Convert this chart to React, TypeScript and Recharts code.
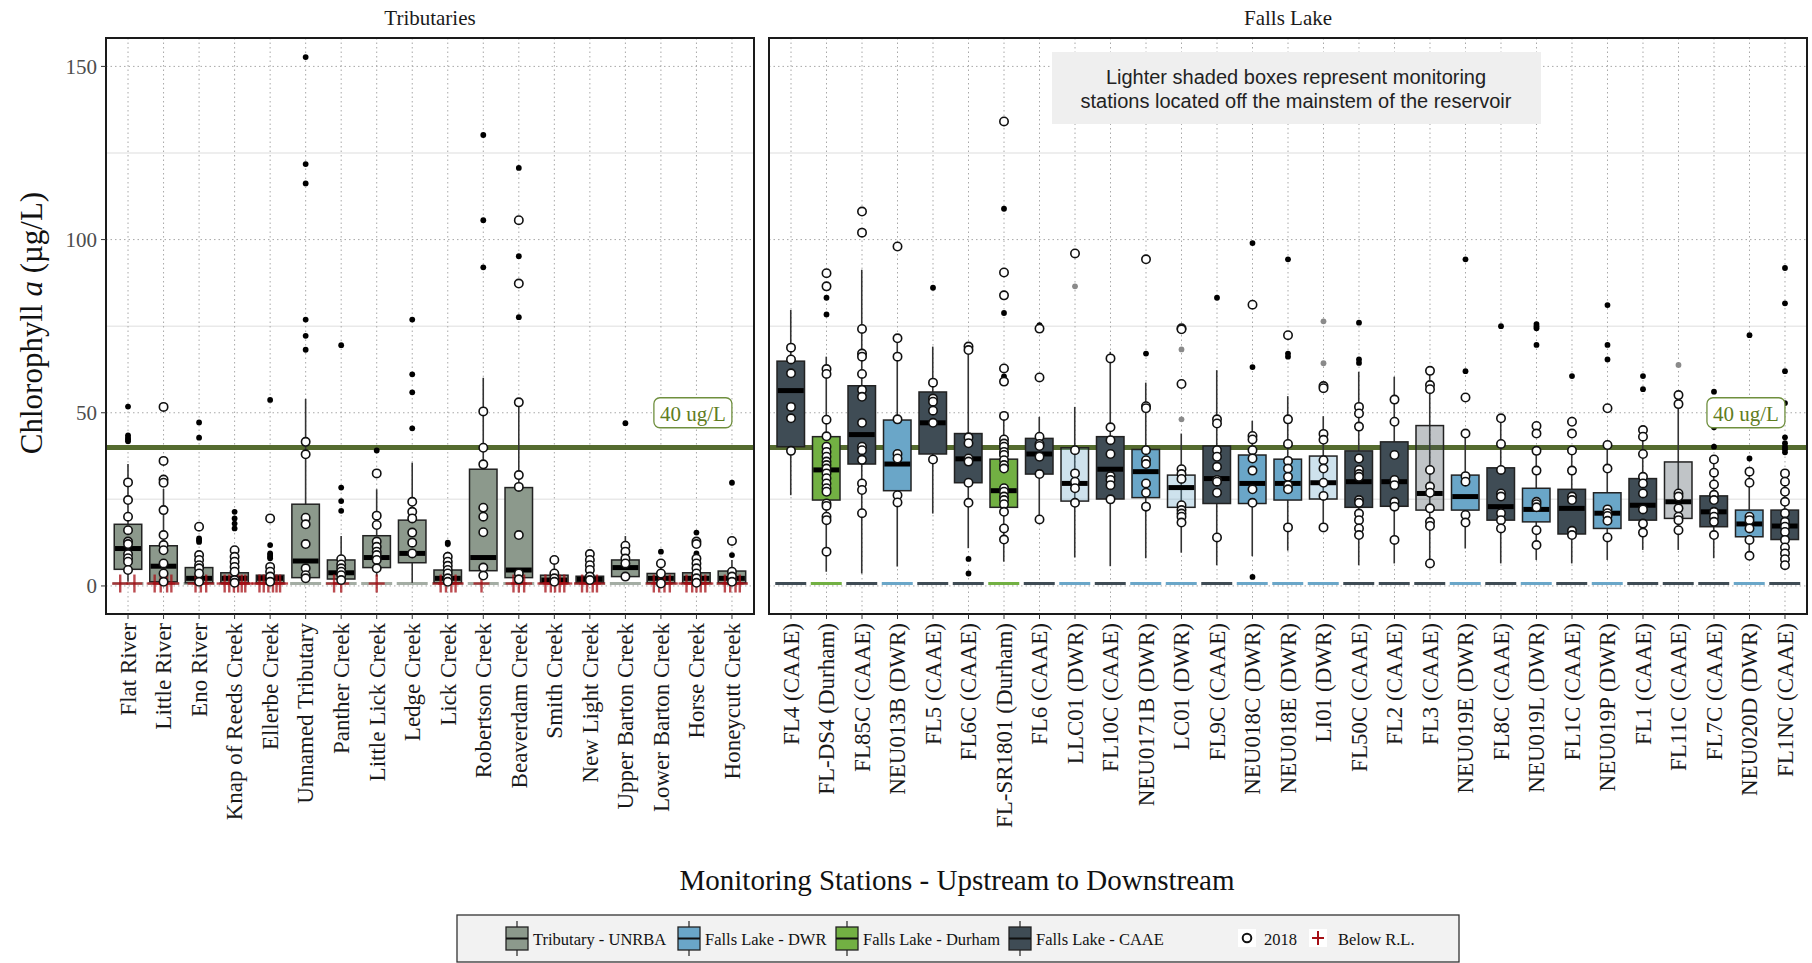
import React from 'react';
import {
  ComposedChart,
  Bar,
  Scatter,
  XAxis,
  YAxis,
  CartesianGrid,
  ReferenceArea,
  ReferenceDot,
} from 'recharts';

const SERIF = '"Liberation Serif", "Times New Roman", serif';
const SANS = '"Liberation Sans Narrow", "Liberation Sans", Arial, sans-serif';

// reporting limit (dashes + red crosses) and the 40 ug/L criterion
const RL = 0.7;
const TARGET = 40;
const Y_DOMAIN: [number, number] = [-8.1, 158.2];
const Y_TICKS = [0, 50, 100, 150];
const Y_MINOR = [25, 75, 125];

// ---- Tributaries ----
const tribStations = [
  'Flat River', 'Little River', 'Eno River', 'Knap of Reeds Creek', 'Ellerbe Creek',
  'Unnamed Tributary', 'Panther Creek', 'Little Lick Creek', 'Ledge Creek', 'Lick Creek',
  'Robertson Creek', 'Beaverdam Creek', 'Smith Creek', 'New Light Creek',
  'Upper Barton Creek', 'Lower Barton Creek', 'Horse Creek', 'Honeycutt Creek',
];
const tribLow = [1.2, 0.9, 0.9, 0.9, 0.9, 1.8, 1.2, 2.7, 0.9, 0.9, 2.7, 1.2, 0.9, 0.9, 1.7, 0.9, 0.9, 0.9];
const tribQ1 = [4.8, 1.2, 0.9, 0.9, 0.9, 2.4, 2.0, 5.3, 6.7, 0.9, 4.4, 2.4, 0.9, 0.9, 2.7, 0.9, 0.9, 0.9];
const tribMed = [10.8, 5.7, 2.2, 2.2, 2.2, 7.2, 3.8, 8.2, 9.4, 2.2, 8.2, 4.6, 1.7, 1.9, 5.3, 2.2, 2.2, 2.2];
const tribQ3 = [17.8, 11.6, 5.3, 3.8, 3.1, 23.6, 7.5, 14.5, 19.0, 4.6, 33.7, 28.4, 3.1, 2.8, 7.5, 3.6, 3.8, 4.3];
const tribHigh = [35.2, 28.0, 9.5, 7.9, 6.0, 54.0, 14.4, 27.9, 35.6, 8.4, 60.1, 53.0, 7.7, 9.4, 14.4, 6.5, 7.9, 7.5];
const tribOutliers = [
  [51.8, 43.5, 42.8, 42.3, 41.8],
  [],
  [47.2, 42.8, 13.7, 13.2, 12.7],
  [21.4, 19.5, 18.0, 16.6],
  [53.7, 11.8, 9.4, 8.9, 8.4, 8.0],
  [152.7, 121.8, 116.2, 76.9, 72.2, 68.2],
  [69.5, 28.4, 24.5, 21.7],
  [39.1],
  [76.9, 61.1, 55.9, 45.5],
  [12.5, 12.1],
  [130.2, 105.6, 92.0],
  [120.7, 95.2, 77.6],
  [],
  [],
  [47.0],
  [9.9],
  [15.4, 9.4],
  [29.8, 8.9],
];
const trib2018 = [
  [29.9, 24.8, 20.0, 16.1, 12.8, 12.1, 9.2, 8.0, 7.0, 4.6],
  [51.7, 36.1, 30.7, 29.8, 21.9, 14.7, 11.8, 10.3, 6.5, 3.6, 1.2],
  [17.1, 8.9, 7.5, 6.0, 5.1, 3.6, 1.2],
  [10.3, 8.4, 7.0, 5.5, 4.1, 1.7, 0.9],
  [19.5, 5.5, 4.1, 2.7, 1.2],
  [41.6, 38.0, 19.7, 17.8, 12.1, 5.1, 3.1, 2.2],
  [7.7, 6.2, 5.1, 4.1, 3.1, 1.7],
  [32.5, 20.3, 17.6, 12.8, 11.3, 9.9, 8.9, 7.5, 5.1],
  [24.3, 21.4, 19.5, 15.4, 12.5, 9.4],
  [8.4, 7.0, 5.8, 4.6, 3.6, 2.2, 1.2],
  [50.4, 39.9, 35.1, 22.6, 20.0, 15.5, 5.3, 3.0],
  [105.6, 87.3, 53.0, 32.0, 28.6, 14.7, 3.6, 1.9],
  [7.5, 3.6, 2.2, 1.2],
  [9.2, 7.5, 6.0, 4.6, 2.7, 1.7],
  [11.6, 9.9, 7.9, 6.5, 2.7],
  [6.5, 3.6, 0.7],
  [12.8, 12.1, 7.9, 6.5, 5.1, 3.6, 2.2, 0.9],
  [13.0, 4.1, 2.7, 1.2],
];
// horizontal jitter of the below-RL crosses (category units)
const tribBelowRL = [
  [-0.22, 0.18],
  [-0.25, -0.08, 0.1, 0.22],
  [-0.1, 0.05, 0.2],
  [-0.28, -0.15, -0.02, 0.1, 0.2, 0.3],
  [-0.3, -0.18, -0.05, 0.08, 0.18, 0.28],
  [],
  [-0.2, 0.0],
  [0.0],
  [],
  [-0.2, -0.05, 0.1, 0.22],
  [-0.05],
  [-0.15, 0.0, 0.15],
  [-0.25, -0.1, 0.02, 0.15, 0.28],
  [-0.22, -0.08, 0.08, 0.2],
  [],
  [-0.2, -0.05, 0.1, 0.25],
  [-0.28, -0.12, 0.0, 0.12, 0.25],
  [-0.2, -0.05, 0.1, 0.22],
];

// ---- Falls Lake ----
const lakeStations = [
  'FL4 (CAAE)', 'FL-DS4 (Durham)', 'FL85C (CAAE)', 'NEU013B (DWR)', 'FL5 (CAAE)', 'FL6C (CAAE)',
  'FL-SR1801 (Durham)', 'FL6 (CAAE)', 'LLC01 (DWR)', 'FL10C (CAAE)', 'NEU0171B (DWR)', 'LC01 (DWR)',
  'FL9C (CAAE)', 'NEU018C (DWR)', 'NEU018E (DWR)', 'LI01 (DWR)', 'FL50C (CAAE)', 'FL2 (CAAE)',
  'FL3 (CAAE)', 'NEU019E (DWR)', 'FL8C (CAAE)', 'NEU019L (DWR)', 'FL1C (CAAE)', 'NEU019P (DWR)',
  'FL1 (CAAE)', 'FL11C (CAAE)', 'FL7C (CAAE)', 'NEU020D (DWR)', 'FL1NC (CAAE)',
];
const lakeAgency = [
  'CAAE', 'Durham', 'CAAE', 'DWR', 'CAAE', 'CAAE', 'Durham', 'CAAE', 'DWR', 'CAAE', 'DWR', 'DWR',
  'CAAE', 'DWR', 'DWR', 'DWR', 'CAAE', 'CAAE', 'CAAE', 'DWR', 'CAAE', 'DWR', 'CAAE', 'DWR',
  'CAAE', 'CAAE', 'CAAE', 'DWR', 'CAAE',
];
// stations off the mainstem get the lighter boxes
const lakeOffMain = [
  false, false, false, false, false, false, false, false, true, false, false, true,
  false, false, false, true, false, false, true, false, false, false, false, false,
  false, true, false, false, false,
];
const lakeLow = [26.2, 4.1, 3.6, 5.6, 20.9, 10.9, 7.0, 19.0, 8.2, 5.7, 8.0, 9.6, 6.0, 8.6, 10.2, 16.6, 6.0, 6.5, 6.5, 10.8, 6.5, 7.5, 6.5, 7.5, 10.4, 10.4, 8.0, 8.7, 6.0];
const lakeQ1 = [40.2, 24.8, 35.2, 27.5, 38.1, 29.8, 22.7, 32.3, 24.5, 25.1, 25.5, 22.7, 23.8, 23.8, 24.8, 25.1, 22.7, 23.0, 21.9, 21.9, 19.0, 18.5, 15.0, 16.6, 19.0, 19.5, 17.1, 14.2, 13.4];
const lakeMed = [56.4, 33.5, 43.7, 35.2, 47.1, 36.7, 27.5, 38.1, 29.6, 33.7, 33.0, 28.4, 31.0, 29.6, 29.6, 29.8, 30.1, 30.1, 26.7, 25.8, 22.9, 22.1, 22.4, 21.0, 23.3, 24.3, 21.4, 17.9, 17.3];
const lakeQ3 = [64.9, 43.1, 57.8, 47.9, 56.0, 44.0, 36.6, 42.6, 39.9, 43.1, 39.4, 32.0, 40.4, 37.8, 36.6, 37.5, 39.0, 41.6, 46.3, 32.0, 34.1, 28.2, 27.9, 26.9, 31.0, 35.8, 26.0, 21.9, 21.9];
const lakeHigh = [79.7, 66.2, 91.3, 71.5, 69.1, 67.6, 49.3, 48.8, 51.7, 67.6, 58.7, 44.0, 62.3, 47.7, 54.8, 49.0, 61.8, 60.4, 62.3, 44.0, 48.7, 39.2, 39.2, 40.6, 45.0, 55.1, 36.5, 33.5, 32.5];
const lakeOutliers = [
  [], [83.2, 78.4], [], [], [86.1], [7.8, 3.6], [108.9, 78.8, 60.5], [75.3], [86.5], [],
  [67.1], [68.3, 48.1], [83.2], [99.0, 63.2, 2.6], [94.3, 67.1, 66.2], [76.4, 64.3],
  [76.0, 65.4, 64.4], [], [], [94.3, 62.0], [75.0], [75.6, 75.0, 74.4, 69.6], [60.6],
  [81.1, 69.6, 65.4], [60.6, 56.8], [63.8], [56.1, 45.8, 40.2], [72.4, 36.8],
  [91.8, 81.6, 62.0, 52.8, 42.9, 41.2, 40.2, 39.5, 38.6],
];
const lake2018 = [
  [68.8, 65.4, 61.4, 51.7, 48.4, 39.0],
  [90.3, 86.5, 62.6, 61.2, 48.0, 43.2, 40.2, 38.7, 37.3, 35.9, 34.9, 33.9, 32.5, 31.1, 29.6, 28.2, 27.2, 23.8, 23.1, 20.0, 19.0, 9.9],
  [108.1, 102.0, 74.2, 67.1, 66.2, 61.2, 56.6, 54.6, 47.1, 40.2, 39.2, 36.4, 29.6, 27.7, 21.0],
  [98.0, 71.5, 66.2, 48.1, 38.1, 36.8, 26.2, 24.1],
  [58.7, 54.1, 53.2, 50.6, 47.1, 36.5],
  [69.1, 68.1, 42.9, 41.2, 36.8, 35.9, 29.8, 24.0],
  [134.1, 90.5, 83.9, 62.8, 59.0, 49.1, 42.3, 41.1, 40.2, 38.7, 37.8, 36.3, 34.9, 33.9, 28.2, 27.2, 25.8, 24.8, 23.6, 21.4, 16.6, 13.4],
  [74.3, 60.2, 43.1, 41.0, 40.4, 37.3, 32.3, 19.2],
  [96.0, 39.2, 32.5, 30.1, 28.2, 24.0],
  [65.7, 45.8, 42.1, 38.1, 31.7, 30.6, 29.1, 25.0],
  [94.3, 51.9, 51.3, 39.2, 36.3, 35.2, 29.6, 26.9, 22.9],
  [74.4, 74.1, 58.3, 33.7, 32.3, 30.9, 23.3, 21.9, 20.9, 20.0, 18.3],
  [48.1, 46.9, 39.2, 37.3, 34.4, 30.6, 30.1, 26.9, 14.0],
  [81.2, 43.3, 42.3, 39.2, 36.8, 33.3, 27.9, 24.0],
  [72.4, 48.1, 41.0, 36.1, 33.9, 31.5, 29.1, 27.9, 16.9],
  [57.7, 57.1, 43.9, 42.2, 36.3, 33.9, 29.8, 26.0, 16.9],
  [51.7, 49.8, 46.0, 36.8, 33.5, 32.3, 31.5, 24.8, 24.0, 20.9, 19.0, 16.6, 14.7],
  [53.8, 47.4, 37.8, 30.6, 29.1, 24.3, 22.9, 13.3],
  [62.1, 58.0, 56.8, 33.5, 28.7, 26.9, 22.4, 18.5, 17.3, 6.5],
  [54.4, 44.0, 31.7, 30.1, 20.5, 18.3],
  [48.4, 41.0, 33.5, 26.7, 25.8, 21.0, 19.0, 16.6],
  [46.2, 44.0, 39.0, 33.3, 24.3, 23.6, 22.7, 16.1, 11.8],
  [47.4, 44.0, 39.1, 33.3, 25.8, 24.8, 15.9, 14.7],
  [51.3, 40.7, 33.9, 22.1, 21.0, 20.2, 18.8, 14.0],
  [45.0, 43.1, 38.1, 31.5, 29.6, 26.7, 22.1, 18.0, 15.4],
  [55.1, 52.5, 26.7, 25.8, 22.4, 20.0, 19.0, 16.1],
  [36.5, 32.7, 29.3, 26.3, 24.8, 21.4, 20.0, 18.5, 14.7],
  [33.0, 29.8, 20.0, 19.0, 16.6, 13.3, 8.7],
  [32.5, 30.1, 27.2, 24.3, 21.0, 18.5, 17.1, 15.6, 13.3, 11.1, 9.4, 7.7, 6.0],
];

const COLORS: Record<string, string> = {
  Tributary: '#8c998c',
  DWR: '#6aa6c8',
  Durham: '#72b043',
  CAAE: '#3f4c55',
};
const TRIB_DASH = '#a4ada4';

const BOX_W = 27.5;
const DASH_W = 31;

type Row = {
  x: number;
  span: [number, number];
  low: number;
  q1: number;
  med: number;
  q3: number;
  high: number;
  fill: string;
  alpha: number;
  dash: string;
};

const tribRows: Row[] = tribStations.map((_, i) => ({
  x: i,
  span: [RL, tribHigh[i]],
  low: tribLow[i],
  q1: tribQ1[i],
  med: tribMed[i],
  q3: tribQ3[i],
  high: tribHigh[i],
  fill: COLORS.Tributary,
  alpha: 1,
  dash: TRIB_DASH,
}));

const lakeRows: Row[] = lakeStations.map((_, i) => ({
  x: i,
  span: [RL, lakeHigh[i]],
  low: lakeLow[i],
  q1: lakeQ1[i],
  med: lakeMed[i],
  q3: lakeQ3[i],
  high: lakeHigh[i],
  fill: COLORS[lakeAgency[i]],
  alpha: lakeOffMain[i] ? 0.33 : 1,
  dash: COLORS[lakeAgency[i]],
}));

const toPoints = (lists: number[][], keep: (i: number) => boolean = () => true) =>
  lists.flatMap((vals, i) => (keep(i) ? vals.map((v) => ({ x: i, y: v })) : []));

const tribOutPts = toPoints(tribOutliers);
const trib2018Pts = toPoints(trib2018);
const tribRLPts = tribBelowRL.flatMap((offs, i) => offs.map((o) => ({ x: i + o, y: RL })));
const lakeOutPts = toPoints(lakeOutliers, (i) => !lakeOffMain[i]);
const lakeOutLightPts = toPoints(lakeOutliers, (i) => lakeOffMain[i]);
const lake2018Pts = toPoints(lake2018);

// one boxplot drawn from the range bar [RL, upper whisker]
const BoxShape = (props: any) => {
  const { x, y, width, height, payload } = props;
  if (!payload || !height) return null;
  const [lo, hi] = payload.span;
  const py = (v: number) => y + (height * (hi - v)) / (hi - lo);
  const cx = x + width / 2;
  const yQ1 = py(payload.q1);
  const yQ3 = py(payload.q3);
  const yMed = py(payload.med);
  return (
    <g>
      <line x1={cx - DASH_W / 2} x2={cx + DASH_W / 2} y1={py(RL)} y2={py(RL)} stroke={payload.dash} strokeWidth={3} />
      <line x1={cx} x2={cx} y1={py(payload.high)} y2={py(payload.low)} stroke="#333" strokeWidth={1.6} />
      <rect
        x={cx - BOX_W / 2}
        y={yQ3}
        width={BOX_W}
        height={Math.max(yQ1 - yQ3, 1)}
        fill={payload.fill}
        fillOpacity={payload.alpha}
        stroke="#222"
        strokeWidth={1.5}
      />
      <line x1={cx - BOX_W / 2 + 0.8} x2={cx + BOX_W / 2 - 0.8} y1={yMed} y2={yMed} stroke="#000" strokeWidth={5} />
    </g>
  );
};

const OpenDot = ({ cx, cy }: any) =>
  cx == null ? null : <circle cx={cx} cy={cy} r={4.2} fill="#fff" stroke="#111" strokeWidth={1.6} />;
const BlackDot = ({ cx, cy }: any) => (cx == null ? null : <circle cx={cx} cy={cy} r={2.9} fill="#000" />);
const GreyDot = ({ cx, cy }: any) => (cx == null ? null : <circle cx={cx} cy={cy} r={2.9} fill="#8a8a8a" />);
const Cross = ({ cx, cy }: any) =>
  cx == null ? null : (
    <g stroke="#a50f15" strokeWidth={2.4} strokeOpacity={0.75}>
      <line x1={cx - 8} x2={cx + 8} y1={cy} y2={cy} />
      <line x1={cx} x2={cx} y1={cy - 9} y2={cy + 9} />
    </g>
  );

const TargetLabel = ({ cx, cy }: any) => (
  <g>
    <rect x={cx - 39} y={cy - 15} width={78} height={30} rx={6} fill="#fff" stroke="#6f8f3e" strokeWidth={1.3} />
    <text x={cx} y={cy + 1} textAnchor="middle" dominantBaseline="central" fontFamily={SERIF} fontSize={21} fill="#5f7d22">
      40 ug/L
    </text>
  </g>
);

const makeTick = (names: string[]) => (props: any) => {
  const { x, y, payload } = props;
  const label = names[Math.round(payload.value)] ?? '';
  return (
    <g transform={`translate(${x},${y + 2})`}>
      <text transform="rotate(-90)" textAnchor="end" dy="0.34em" fontFamily={SERIF} fontSize={23} fill="#1a1a1a">
        {label}
      </text>
    </g>
  );
};

const CHART_H = 850;
const X_AXIS_H = 236;

function Panel({
  rows,
  names,
  width,
  margin,
  showY,
  outPts,
  lightPts,
  pts2018,
  rlPts,
}: {
  rows: Row[];
  names: string[];
  width: number;
  margin: { top: number; right: number; left: number; bottom: number };
  showY: boolean;
  outPts: { x: number; y: number }[];
  lightPts: { x: number; y: number }[];
  pts2018: { x: number; y: number }[];
  rlPts: { x: number; y: number }[];
}) {
  const n = names.length;
  const xDomain: [number, number] = [-0.62, n - 1 + 0.62];
  const ticks = names.map((_, i) => i);
  return (
    <ComposedChart width={width} height={CHART_H} data={rows} margin={margin}>
      {/* minor grid, major dotted grid, then the 40 ug/L line: all behind the boxes */}
      <CartesianGrid horizontalValues={Y_MINOR} vertical={false} stroke="#e9e9e9" strokeWidth={1.5} />
      <CartesianGrid stroke="#a8a8a8" strokeDasharray="1.5 3" />
      <CartesianGrid horizontalValues={[TARGET]} vertical={false} stroke="#556b2f" strokeWidth={5} />
      <XAxis
        type="number"
        dataKey="x"
        domain={xDomain}
        ticks={ticks}
        interval={0}
        allowDataOverflow
        axisLine={false}
        tickLine={{ stroke: '#333' }}
        tickSize={5}
        height={X_AXIS_H}
        tick={makeTick(names)}
      />
      <YAxis
        type="number"
        domain={Y_DOMAIN}
        ticks={Y_TICKS}
        allowDataOverflow
        hide={!showY}
        width={106}
        axisLine={false}
        tickLine={{ stroke: '#333' }}
        tickSize={5}
        tickMargin={4}
        tick={{ fill: '#4d4d4d', fontSize: 21, fontFamily: SERIF }}
      />
      <Bar dataKey="span" barSize={DASH_W} shape={BoxShape} isAnimationActive={false} />
      <Scatter data={outPts} dataKey="y" shape={BlackDot} isAnimationActive={false} />
      <Scatter data={lightPts} dataKey="y" shape={GreyDot} isAnimationActive={false} />
      <Scatter data={rlPts} dataKey="y" shape={Cross} isAnimationActive={false} />
      <Scatter data={pts2018} dataKey="y" shape={OpenDot} isAnimationActive={false} />
      <ReferenceDot x={n - 2.1} y={50} shape={TargetLabel} />
      <ReferenceArea
        x1={xDomain[0]}
        x2={xDomain[1]}
        y1={Y_DOMAIN[0]}
        y2={Y_DOMAIN[1]}
        fill="none"
        fillOpacity={0}
        stroke="#1a1a1a"
        strokeWidth={2}
      />
    </ComposedChart>
  );
}

const legendBoxes = [
  { label: 'Tributary - UNRBA', color: COLORS.Tributary, cx: 517, tx: 533 },
  { label: 'Falls Lake - DWR', color: COLORS.DWR, cx: 689, tx: 705 },
  { label: 'Falls Lake - Durham', color: COLORS.Durham, cx: 847, tx: 863 },
  { label: 'Falls Lake - CAAE', color: COLORS.CAAE, cx: 1020, tx: 1036 },
];

export default function App() {
  return (
    <div
      style={{
        position: 'absolute',
        left: 0,
        top: 0,
        width: 1812,
        height: 963,
        background: '#fff',
        fontFamily: SERIF,
        overflow: 'hidden',
      }}
    >
      <div style={{ position: 'absolute', left: 0, top: 0 }}>
        <Panel
          rows={tribRows}
          names={tribStations}
          width={760}
          margin={{ top: 38, right: 6, left: 0, bottom: 0 }}
          showY
          outPts={tribOutPts}
          lightPts={[]}
          pts2018={trib2018Pts}
          rlPts={tribRLPts}
        />
      </div>
      <div style={{ position: 'absolute', left: 763, top: 0 }}>
        <Panel
          rows={lakeRows}
          names={lakeStations}
          width={1049}
          margin={{ top: 38, right: 5, left: 6, bottom: 0 }}
          showY={false}
          outPts={lakeOutPts}
          lightPts={lakeOutLightPts}
          pts2018={lake2018Pts}
          rlPts={[]}
        />
      </div>
      <svg width={1812} height={963} style={{ position: 'absolute', left: 0, top: 0, pointerEvents: 'none' }}>
        <text x={430} y={18} textAnchor="middle" dominantBaseline="central" fontFamily={SERIF} fontSize={21} fill="#1a1a1a">
          Tributaries
        </text>
        <text x={1288} y={18} textAnchor="middle" dominantBaseline="central" fontFamily={SERIF} fontSize={21} fill="#1a1a1a">
          Falls Lake
        </text>
        <text
          transform="translate(31,323) rotate(-90)"
          textAnchor="middle"
          dominantBaseline="central"
          fontFamily={SERIF}
          fontSize={31}
          fill="#111"
        >
          Chlorophyll <tspan fontStyle="italic">a</tspan> (µg/L)
        </text>
        <text x={957} y={880} textAnchor="middle" dominantBaseline="central" fontFamily={SERIF} fontSize={29} fill="#111">
          Monitoring Stations - Upstream to Downstream
        </text>

        <rect x={1052} y={52} width={489} height={72} fill="#efefef" />
        <text x={1296} y={77} textAnchor="middle" dominantBaseline="central" fontFamily={SANS} fontSize={20} fill="#222">
          Lighter shaded boxes represent monitoring
        </text>
        <text x={1296} y={101} textAnchor="middle" dominantBaseline="central" fontFamily={SANS} fontSize={20} fill="#222">
          stations located off the mainstem of the reservoir
        </text>

        <rect x={457} y={915} width={1002} height={47} fill="#f2f2f2" stroke="#333" strokeWidth={1.3} />
        {legendBoxes.map((b) => (
          <g key={b.label}>
            <line x1={b.cx} x2={b.cx} y1={921} y2={956} stroke="#333" strokeWidth={1.3} />
            <rect x={b.cx - 11} y={927} width={22} height={23} fill={b.color} stroke="#222" strokeWidth={1.3} />
            <line x1={b.cx - 11} x2={b.cx + 11} y1={938.5} y2={938.5} stroke="#111" strokeWidth={2} />
            <text x={b.tx} y={939} dominantBaseline="central" fontFamily={SERIF} fontSize={16.5} fill="#111">
              {b.label}
            </text>
          </g>
        ))}
        <rect x={1238} y={929} width={18} height={18} fill="#fff" />
        <circle cx={1247} cy={938} r={4.3} fill="#fff" stroke="#111" strokeWidth={2} />
        <text x={1264} y={939} dominantBaseline="central" fontFamily={SERIF} fontSize={16.5} fill="#111">
          2018
        </text>
        <rect x={1309} y={929} width={18} height={18} fill="#fff" />
        <g stroke="#a50f15" strokeWidth={2}>
          <line x1={1312} x2={1324} y1={938} y2={938} />
          <line x1={1318} x2={1318} y1={931} y2={945} />
        </g>
        <text x={1338} y={939} dominantBaseline="central" fontFamily={SERIF} fontSize={16.5} fill="#111">
          Below R.L.
        </text>
      </svg>
    </div>
  );
}
